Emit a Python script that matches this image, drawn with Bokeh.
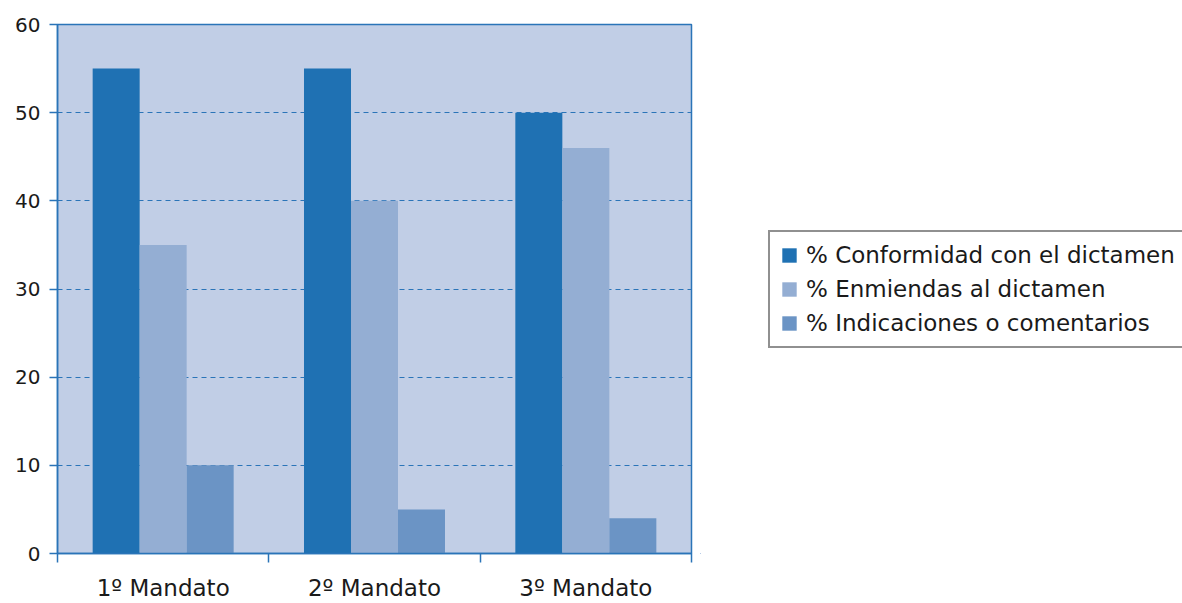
import numpy as np
from bokeh.plotting import figure
from bokeh.layouts import row
from bokeh.models import ColumnDataSource, Range1d, FixedTicker, Legend, LegendItem
from bokeh.embed import file_html
from bokeh.resources import INLINE

categories = ["1º Mandato", "2º Mandato", "3º Mandato"]
series_names = ["% Conformidad con el dictamen", "% Enmiendas al dictamen", "% Indicaciones o comentarios"]
conformidad = [55, 55, 50]
enmiendas = [35, 40, 46]
indicaciones = [10, 5, 4]
y_ticks = [0, 10, 20, 30, 40, 50, 60]

colors = ["#1f71b3", "#94aed3", "#6b94c5"]
FONT = "DejaVu Sans"
AXIS_BLUE = "#2a74b8"

p = figure(width=700, height=603, output_backend="svg", toolbar_location=None,
           x_range=Range1d(0, 3), y_range=Range1d(0, 60),
           min_border_left=57, min_border_right=9, min_border_top=24, min_border_bottom=50)
p.background_fill_color = "#c1cee6"
p.border_fill_color = "white"
p.outline_line_color = AXIS_BLUE
p.outline_line_width = 1.5

centers = np.arange(len(categories)) + 0.5
w = 0.2224
offsets = [-w, 0, w]
series = [conformidad, enmiendas, indicaciones]
for vals, off, col in zip(series, offsets, colors):
    src = ColumnDataSource(dict(x=centers + off, top=vals))
    p.vbar(x="x", top="top", width=w, bottom=0, source=src, fill_color=col, line_color=None)

# x axis
p.xaxis.ticker = FixedTicker(ticks=list(centers), minor_ticks=[0, 1, 2, 3])
p.xaxis.major_label_overrides = {float(c): n for c, n in zip(centers, categories)}
p.xaxis.major_tick_out = 0
p.xaxis.major_tick_in = 0
p.xaxis.minor_tick_out = 9
p.xaxis.minor_tick_in = 0
p.xaxis.minor_tick_line_color = AXIS_BLUE
p.xaxis.minor_tick_line_width = 1.5
p.xaxis.major_label_standoff = 12
p.xaxis.major_label_text_font_size = "23px"

# y axis
p.yaxis.ticker = FixedTicker(ticks=y_ticks)
p.yaxis.major_tick_out = 8
p.yaxis.major_tick_in = 0
p.yaxis.minor_tick_line_color = None
p.yaxis.major_tick_line_color = AXIS_BLUE
p.yaxis.major_tick_line_width = 1.5
p.yaxis.major_label_standoff = 9
p.yaxis.major_label_text_font_size = "20px"

for ax in [p.xaxis, p.yaxis]:
    ax.axis_line_color = AXIS_BLUE
    ax.axis_line_width = 1.5
    ax.major_label_text_font = FONT
    ax.major_label_text_color = "#1a1a1a"

p.xgrid.grid_line_color = None
p.ygrid.ticker = FixedTicker(ticks=[10, 20, 30, 40, 50])
p.ygrid.grid_line_color = AXIS_BLUE
p.ygrid.grid_line_dash = "5 4"
p.ygrid.grid_line_width = 1

# legend panel (its own bars lie outside the visible ranges; only the legend shows)
p2 = figure(width=482, height=603, output_backend="svg", toolbar_location=None,
            x_range=Range1d(100, 101), y_range=Range1d(1000, 1001),
            x_axis_type=None, y_axis_type=None,
            min_border_left=0, min_border_right=0, min_border_top=0, min_border_bottom=0)
p2.outline_line_color = None
p2.background_fill_color = "white"
p2.border_fill_color = "white"
leg_renderers = []
for vals, off, col in zip(series, offsets, colors):
    r = p2.vbar(x=centers + off, top=vals, width=w, fill_color=col, line_color=None)
    leg_renderers.append(r)

legend = Legend(items=[LegendItem(label=n, renderers=[r]) for n, r in zip(series_names, leg_renderers)],
                location=(68, 205))
legend.border_line_color = "#222222"
legend.border_line_width = 2
legend.background_fill_color = "white"
legend.background_fill_alpha = 1
legend.label_text_font = FONT
legend.label_text_font_size = "23px"
legend.label_text_color = "#1a1a1a"
legend.glyph_width = 18
legend.glyph_height = 18
legend.spacing = 8
legend.padding = 10
legend.margin = 0
legend.label_standoff = 8
legend.label_height = 24
p2.add_layout(legend, "center")

layout = row(p, p2)
open("out.html", "w").write(file_html(layout, INLINE))
